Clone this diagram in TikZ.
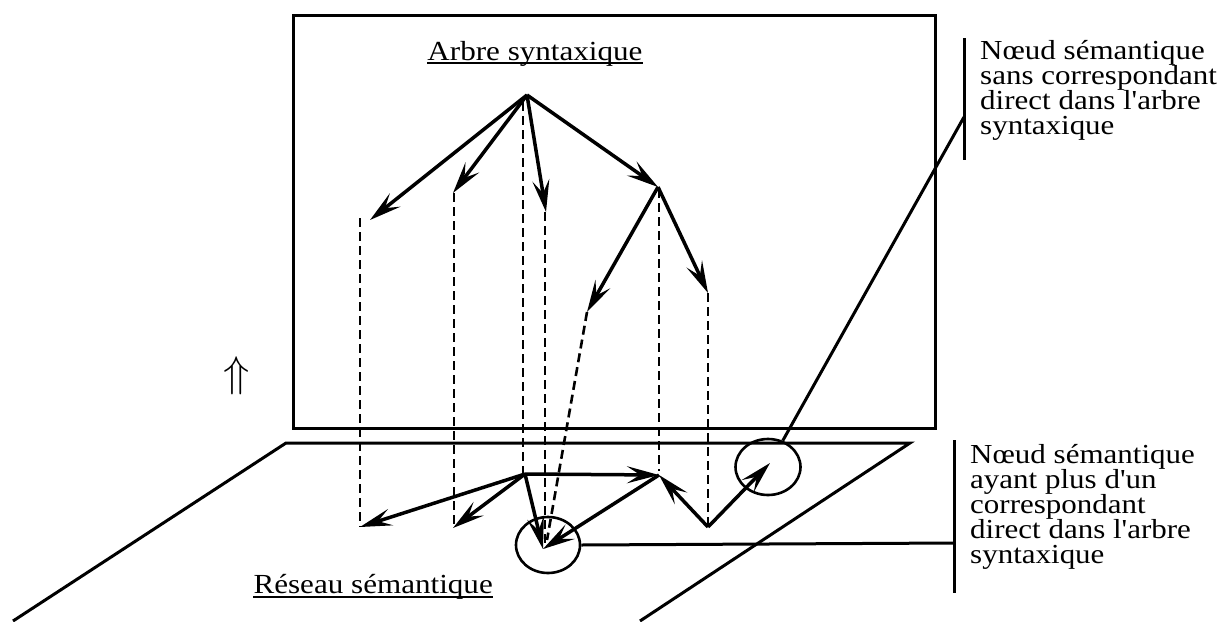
\documentclass[tikz,border=0pt]{standalone}
\usepackage{fontspec}
\setmainfont{Liberation Serif}[FakeStretch=1.127,Ligatures=TeXOff]
\usetikzlibrary{arrows.meta,shapes.geometric}
\tikzset{
  solid line/.style={line width=3pt},
  arr/.style={line width=3.5pt,-{Stealth[length=32pt,width=17pt,inset=13pt]}},
  proj/.style={line width=2.6pt,dash pattern=on 9pt off 5pt},
  ring/.style={draw,ellipse,line width=2.6pt,inner sep=0pt},
  lbl/.style={inner sep=0pt,anchor=base west,font=\fontsize{27.5}{25}\selectfont},
  ttl/.style={inner sep=0pt,font=\fontsize{27.6}{25}\selectfont},
}
\begin{document}
\begin{tikzpicture}[x=1pt,y=-1pt]
\useasboundingbox (0,0) rectangle (1225,621);
% syntactic tree plane
\draw[solid line] (293,15) rectangle (935,428);
% semantic network plane
\coordinate (p1) at (286,443);
\coordinate (p2) at (910,443);
\coordinate (p3) at (13,621);
\coordinate (p4) at (640,621);
\draw[solid line] (p3) -- (p1) -- (p2) -- (p4);
% titles
\node[ttl,anchor=base] (tA) at (535,60) {Arbre syntaxique};
\draw[line width=1.6pt] ([yshift=-3pt]tA.base west) -- ([yshift=-3pt]tA.base east);
\node[ttl,anchor=base east] (tR) at (493,593) {Réseau sémantique};
\draw[line width=1.6pt] ([yshift=-4pt]tR.base west) -- ([yshift=-4pt]tR.base east);
% up arrow
\node[scale=4.3,inner sep=0pt] (up) at (237,376) {$\Uparrow$};
% tree nodes
\coordinate (R) at (527,95);
\coordinate (t1) at (370,220);
\coordinate (t2) at (453,193);
\coordinate (t3) at (546,212);
\coordinate (S) at (658,187);
\coordinate (t4) at (587,312);
\coordinate (t5) at (708,293);
\draw[arr] (R) -- (t1);
\draw[arr] (R) -- (t2);
\draw[arr] (R) -- (t3);
\draw[arr] (R) -- (S);
\draw[arr] (S) -- (t4);
\draw[arr] (S) -- (t5);
% network nodes
\coordinate (A) at (525,474);
\coordinate (n1) at (360,527);
\coordinate (n2) at (453,528);
\coordinate (C) at (543,549);
\coordinate (B) at (659,475);
\coordinate (D) at (708,527);
\coordinate (E) at (770,463);
\draw[arr] (A) -- (n1);
\draw[arr] (A) -- (n2);
\draw[arr] (A) -- (C);
\draw[arr] (A) -- (B);
\draw[arr] (B) -- (C);
\draw[arr] (D) -- (B);
\draw[arr] (D) -- (E);
% projections
\coordinate (d1) at (360,218);
\coordinate (d1b) at (360,527);
\coordinate (d2) at (454,193);
\coordinate (d2b) at (454,527);
\coordinate (d3) at (523,102);
\coordinate (d3b) at (523,474);
\coordinate (d4) at (545,212);
\coordinate (d4b) at (545,548);
\coordinate (d5) at (659,189);
\coordinate (d5b) at (659,471);
\coordinate (d6) at (708,293);
\coordinate (d6b) at (708,527);
\coordinate (d7) at (587,312);
\coordinate (d7b) at (547,540);
\draw[proj] (d1) -- (d1b);
\draw[proj] (d2) -- (d2b);
\draw[proj] (d3) -- (d3b);
\draw[proj] (d4) -- (d4b);
\draw[proj] (d5) -- (d5b);
\draw[proj] (d6) -- (d6b);
\draw[proj] (d7) -- (d7b);
% circles
\node[ring,minimum width=65pt,minimum height=56pt] (cE) at (768,467) {};
\node[ring,minimum width=64pt,minimum height=56pt] (cC) at (548,545) {};
% callout 1
\coordinate (b1t) at (964,38);
\coordinate (b1b) at (964,160);
\coordinate (b1m) at (964,117);
\draw[solid line] (b1t) -- (b1b);
\draw[solid line] (cE) -- (b1m);
\node[lbl] (L1a) at (980,59) {Nœud sémantique};
\node[lbl] (L1b) at (980,84) {sans correspondant};
\node[lbl] (L1c) at (980,109) {direct dans l'arbre};
\node[lbl] (L1d) at (980,134) {syntaxique};
% callout 2
\coordinate (b2t) at (954,440);
\coordinate (b2b) at (954,593);
\coordinate (b2m) at (954,543);
\draw[solid line] (b2t) -- (b2b);
\draw[solid line] (cC.east) -- (b2m);
\node[lbl] (L2a) at (970,463) {Nœud sémantique};
\node[lbl] (L2b) at (970,488) {ayant plus d'un};
\node[lbl] (L2c) at (970,513) {correspondant};
\node[lbl] (L2d) at (970,538) {direct dans l'arbre};
\node[lbl] (L2e) at (970,563) {syntaxique};
\end{tikzpicture}
\end{document}
